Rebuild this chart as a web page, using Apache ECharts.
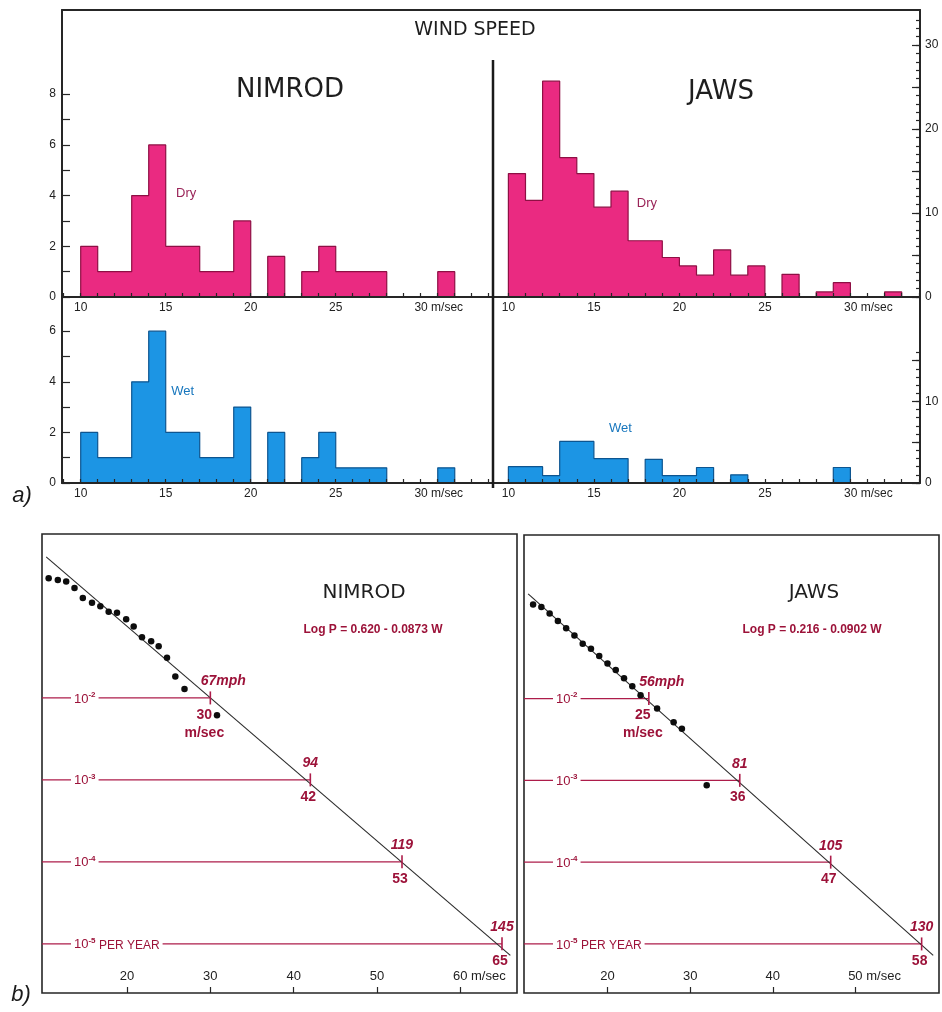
<!DOCTYPE html>
<html>
<head>
<meta charset="utf-8">
<title>Wind speed – NIMROD and JAWS</title>
<script src="https://cdn.jsdelivr.net/npm/echarts@6/dist/echarts.min.js"></script>
<style>
  html, body { margin: 0; padding: 0; background: #ffffff; }
  #chart { width: 942px; height: 1012px; }
</style>
</head>
<body>
<div id="chart"></div>
<script>
// ---- Histogram counts, one value per 1 m/s bin, first bin starts at 10 m/s ----
const binStart = 10;
const nimrodDry = [2, 1, 1, 4, 6, 2, 2, 1, 1, 3, 0, 1.6, 0, 1, 2, 1, 1, 1, 0, 0, 0, 1];
const nimrodWet = [2, 1, 1, 4, 6, 2, 2, 1, 1, 3, 0, 2, 0, 1, 2, 0.6, 0.6, 0.6, 0, 0, 0, 0.6];
const jawsDry = [14.7, 11.5, 25.7, 16.6, 14.7, 10.7, 12.6, 6.7, 6.7, 4.7, 3.7, 2.6, 5.6, 2.6, 3.7, 0, 2.7, 0, 0.6, 1.7, 0, 0, 0.6];
const jawsWet = [2, 2, 0.9, 5.1, 5.1, 3, 3, 0, 2.9, 0.9, 0.9, 1.9, 0, 1, 0, 0, 0, 0, 0, 1.9];

// ---- Annual exceedance probability: observed points [W (m/s), log10 P] ----
const nimrodObs = [
  [10.6, -0.54], [11.7, -0.56], [12.7, -0.58], [13.7, -0.66], [14.7, -0.78], [15.8, -0.84],
  [16.8, -0.88], [17.8, -0.95], [18.8, -0.96], [19.9, -1.04], [20.8, -1.13], [21.8, -1.26],
  [22.9, -1.31], [23.8, -1.37], [24.8, -1.51], [25.8, -1.74], [26.9, -1.89], [30.8, -2.21]
];
const jawsObs = [
  [11, -0.85], [12, -0.88], [13, -0.96], [14, -1.05], [15, -1.14], [16, -1.23],
  [17, -1.33], [18, -1.39], [19, -1.48], [20, -1.57], [21, -1.65], [22, -1.75],
  [23, -1.85], [24, -1.96], [26, -2.12], [28, -2.29], [29, -2.37], [32, -3.06]
];
// fitted regression lines, end points [W, log10 P]
const nimrodFit = [[10.3, -0.28], [66.0, -5.14]];
const jawsFit = [[10.4, -0.72], [59.4, -5.14]];
const nimrodEquation = 'Log P = 0.620 - 0.0873 W';
const jawsEquation = 'Log P = 0.216 - 0.0902 W';

// return levels: log10 of annual probability and the matching speeds
const levelExp = [-2, -3, -4, -5];
const levelSuffix = ['', '', '', ' PER YEAR'];
const nimrodMs = [30, 42, 53, 65];
const nimrodMph = [67, 94, 119, 145];
const jawsMs = [25, 36, 47, 58];
const jawsMph = [56, 81, 105, 130];

// ---- Tick labels ----
const histTickLabels = [10, 15, 20, 25, 30];
const nimrodDryYLabels = [0, 2, 4, 6, 8];
const nimrodWetYLabels = [0, 2, 4, 6];
const jawsDryYLabels = [0, 10, 20, 30];
const jawsWetYLabels = [0, 10];
const nimrodProbTicks = [20, 30, 40, 50, 60];
const jawsProbTicks = [20, 30, 40, 50];

// ---- Axis extents ----
const nimrodHistRange = [8.9, 34.25];
const jawsHistRange = [9.1, 34.07];
const nimrodDryMax = 11.32, jawsDryMax = 34.17, nimrodWetMax = 7.35, jawsWetMax = 22.8;
const nimrodProbRange = [9.8, 66.8];
const jawsProbRange = [9.9, 60.1];
const logRange = [-5.6, 0];

// ---- Styles ----
const FONT = '"Liberation Sans", Arial, sans-serif';
const TITLE_FONT = '"DejaVu Sans", sans-serif';
const AX = '#262626';
const PINK = '#ea2a81', PINK_EDGE = '#8e0f44', PINK_TEXT = '#9a2458';
const BLUE = '#1c95e4', BLUE_EDGE = '#0d5590', BLUE_TEXT = '#1776bd';
const RED_LINE = '#ad1c4a', RED_TEXT = '#9c1239';

function intRange(a, b) {
  const out = [];
  for (let v = a; v <= b; v++) out.push(v);
  return out;
}

// histogram outline as a step line: each value holds over its 1 m/s bin
function stepData(vals) {
  const pts = [[binStart, 0]];
  vals.forEach((v, i) => pts.push([binStart + i, v]));
  pts.push([binStart + vals.length, 0]);
  return pts;
}

// last tick label carries the unit, number stays centred on its tick
function unitLabel(labels, pad, size) {
  return {
    formatter: v => v === labels[labels.length - 1] ? '{n|' + v + '}{u| m/sec}' : String(v),
    rich: {
      n: { padding: [0, 0, 0, pad], fontSize: size, fontFamily: FONT, color: '#222' },
      u: { fontSize: size, fontFamily: FONT, color: '#222' }
    }
  };
}

function histXAxis(grid, range) {
  return {
    type: 'value', gridIndex: grid, position: 'bottom', min: range[0], max: range[1], z: 5,
    axisLine: { show: true, onZero: false, lineStyle: { color: AX, width: 2 } },
    axisTick: { show: true, inside: true, length: 4, customValues: intRange(Math.ceil(range[0]), Math.floor(range[1])),
      lineStyle: { color: AX, width: 1.2 } },
    axisLabel: Object.assign({ customValues: histTickLabels, margin: 5, color: '#222', fontSize: 12,
      fontFamily: FONT }, unitLabel(histTickLabels, 36, 12)),
    splitLine: { show: false }
  };
}

function topLineAxis(grid, range) {
  return {
    type: 'value', gridIndex: grid, position: 'top', min: range[0], max: range[1],
    axisLine: { show: true, onZero: false, lineStyle: { color: AX, width: 2 } },
    axisTick: { show: false }, axisLabel: { show: false }, splitLine: { show: false }
  };
}

function countYAxis(grid, side, max, ticks, labels, tickLen, showLine) {
  return {
    type: 'value', gridIndex: grid, position: side, min: 0, max: max, z: 5,
    axisLine: { show: showLine, onZero: false, lineStyle: { color: AX, width: 2 } },
    axisTick: { show: true, inside: true, length: tickLen, customValues: ticks, lineStyle: { color: AX, width: 1.2 } },
    axisLabel: labels ? { customValues: labels, margin: side === 'left' ? 6 : 5, color: '#222', fontSize: 12, fontFamily: FONT }
                      : { show: false },
    splitLine: { show: false }
  };
}

function probXAxis(grid, range, ticks) {
  return {
    type: 'value', gridIndex: grid, min: range[0], max: range[1], z: 5,
    axisLine: { show: false, onZero: false },
    axisTick: { show: true, inside: true, length: 6, customValues: ticks, lineStyle: { color: AX, width: 1.2 } },
    axisLabel: Object.assign({ inside: true, customValues: ticks, margin: 10, color: '#222', fontSize: 13,
      fontFamily: FONT }, unitLabel(ticks, 38, 13)),
    splitLine: { show: false }
  };
}

function probYAxis(grid) {
  return { type: 'value', gridIndex: grid, min: logRange[0], max: logRange[1], show: false, splitLine: { show: false } };
}

function histSeries(vals, xi, yi, fill, edge) {
  return {
    type: 'line', xAxisIndex: xi, yAxisIndex: yi, step: 'end', symbol: 'none', silent: true,
    data: stepData(vals), z: 2,
    lineStyle: { color: edge, width: 1.2 },
    areaStyle: { color: fill, opacity: 1 }
  };
}

function tagSeries(xi, yi, point, text, color) {
  return {
    type: 'scatter', xAxisIndex: xi, yAxisIndex: yi, symbolSize: 0, silent: true, z: 6,
    data: [point], itemStyle: { opacity: 1 },
    label: { show: true, position: 'inside', formatter: text, color: color, fontSize: 13, fontFamily: FONT }
  };
}

const redRich = {
  b: { color: RED_TEXT, fontSize: 13, fontFamily: FONT, verticalAlign: 'bottom', lineHeight: 15 },
  s: { color: RED_TEXT, fontSize: 8, fontFamily: FONT, fontWeight: 'bold', verticalAlign: 'top', lineHeight: 15 },
  t: { color: RED_TEXT, fontSize: 12, fontFamily: FONT, verticalAlign: 'bottom', lineHeight: 15 }
};

// probability panel: fitted line, observations, return-level markers
function probSeries(xi, yi, xRange, obs, fit, msVals, mphVals) {
  const out = [];
  out.push({
    type: 'line', xAxisIndex: xi, yAxisIndex: yi, symbol: 'none', silent: true, z: 3,
    data: fit, lineStyle: { color: '#2a2a2a', width: 1.1 }
  });
  levelExp.forEach((L, i) => {
    out.push({
      type: 'line', xAxisIndex: xi, yAxisIndex: yi, symbol: 'none', silent: true, z: 2,
      data: [[xRange[0], L], [msVals[i], L]], lineStyle: { color: RED_LINE, width: 1.3 }
    });
  });
  // level captions sitting on the horizontal lines
  out.push({
    type: 'scatter', xAxisIndex: xi, yAxisIndex: yi, symbolSize: 0, silent: true, z: 6,
    itemStyle: { opacity: 1 },
    data: levelExp.map((L, i) => ({ value: [xRange[0], L], name: levelSuffix[i] })),
    label: { show: true, position: 'right', distance: 29,
      formatter: p => '{b|10}{s|' + levelExp[p.dataIndex] + '}' + (p.name ? '{t|' + p.name + '}' : ''),
      rich: redRich, backgroundColor: '#ffffff', padding: [0, 3, 0, 3] }
  });
  // intersection ticks with mph above
  out.push({
    type: 'scatter', xAxisIndex: xi, yAxisIndex: yi, symbol: 'rect', symbolSize: [1.6, 13], silent: true, z: 5,
    data: msVals.map((w, i) => ({ value: [w, levelExp[i]], name: String(mphVals[i]) })),
    itemStyle: { color: RED_LINE, opacity: 1 },
    label: { show: true, position: 'top', distance: 3,
      formatter: p => p.dataIndex === 0 ? '{p|' + p.name + '}{u|mph}' : '{m|' + p.name + '}',
      rich: {
        p: { padding: [0, 0, 0, 26], color: RED_TEXT, fontSize: 14, fontStyle: 'italic', fontWeight: 'bold', fontFamily: FONT },
        u: { color: RED_TEXT, fontSize: 14, fontStyle: 'italic', fontWeight: 'bold', fontFamily: FONT },
        m: { color: RED_TEXT, fontSize: 14, fontStyle: 'italic', fontWeight: 'bold', fontFamily: FONT }
      } }
  });
  // m/s values below
  out.push({
    type: 'scatter', xAxisIndex: xi, yAxisIndex: yi, symbolSize: 0, silent: true, z: 6,
    itemStyle: { opacity: 1 },
    data: msVals.map((w, i) => ({
      value: [w, levelExp[i]], name: String(w),
      label: i === 0 ? { offset: [-6, 0] } : { offset: [-2, 0] }
    })),
    label: { show: true, position: 'bottom', distance: 8, lineHeight: 18,
      formatter: p => p.dataIndex === 0 ? p.name + '\nm/sec' : p.name,
      color: RED_TEXT, fontSize: 14, fontWeight: 'bold', fontFamily: FONT }
  });
  out.push({
    type: 'scatter', xAxisIndex: xi, yAxisIndex: yi, symbol: 'circle', symbolSize: 6.5, silent: true, z: 4,
    data: obs, itemStyle: { color: '#0d0d0d', opacity: 1 }
  });
  return out;
}

function text(x, y, str, font, color, extra) {
  return Object.assign({
    type: 'text', x: x, y: y, z: 20, silent: true,
    style: { text: str, font: font, fill: color, textAlign: 'center', textVerticalAlign: 'middle' }
  }, extra || {});
}

const option = {
  backgroundColor: '#ffffff',
  animation: false,
  grid: [
    { left: 62, top: 10, width: 431, height: 287 },
    { left: 493, top: 10, width: 427, height: 287 },
    { left: 62, top: 297, width: 431, height: 186 },
    { left: 493, top: 297, width: 427, height: 186 },
    { left: 42, top: 534, width: 475, height: 459, show: true, borderColor: AX, borderWidth: 1.6 },
    { left: 524, top: 535, width: 415, height: 458, show: true, borderColor: AX, borderWidth: 1.6 }
  ],
  xAxis: [
    histXAxis(0, nimrodHistRange),
    histXAxis(1, jawsHistRange),
    histXAxis(2, nimrodHistRange),
    histXAxis(3, jawsHistRange),
    topLineAxis(0, nimrodHistRange),
    topLineAxis(1, jawsHistRange),
    probXAxis(4, nimrodProbRange, nimrodProbTicks),
    probXAxis(5, jawsProbRange, jawsProbTicks)
  ],
  yAxis: [
    countYAxis(0, 'left', nimrodDryMax, intRange(0, 8), nimrodDryYLabels, 8, true),
    countYAxis(1, 'right', jawsDryMax, intRange(0, 33), jawsDryYLabels, 4, true),
    countYAxis(1, 'right', jawsDryMax, [0, 5, 10, 15, 20, 25, 30], null, 8, false),
    countYAxis(2, 'left', nimrodWetMax, intRange(0, 6), nimrodWetYLabels, 8, true),
    countYAxis(3, 'right', jawsWetMax, intRange(0, 16), jawsWetYLabels, 4, true),
    countYAxis(3, 'right', jawsWetMax, [0, 5, 10, 15], null, 8, false),
    probYAxis(4),
    probYAxis(5)
  ],
  series: [
    histSeries(nimrodDry, 0, 0, PINK, PINK_EDGE),
    histSeries(jawsDry, 1, 1, PINK, PINK_EDGE),
    histSeries(nimrodWet, 2, 3, BLUE, BLUE_EDGE),
    histSeries(jawsWet, 3, 4, BLUE, BLUE_EDGE),
    tagSeries(0, 0, [16.2, 4.1], 'Dry', PINK_TEXT),
    tagSeries(1, 1, [18.1, 11.1], 'Dry', PINK_TEXT),
    tagSeries(2, 3, [16.0, 3.6], 'Wet', BLUE_TEXT),
    tagSeries(3, 4, [16.55, 6.75], 'Wet', BLUE_TEXT)
  ].concat(
    probSeries(6, 6, nimrodProbRange, nimrodObs, nimrodFit, nimrodMs, nimrodMph),
    probSeries(7, 7, jawsProbRange, jawsObs, jawsFit, jawsMs, jawsMph)
  ),
  graphic: [
    { type: 'line', z: 20, silent: true, shape: { x1: 493, y1: 60, x2: 493, y2: 488 },
      style: { stroke: '#1a1a1a', lineWidth: 2.5 } },
    text(475, 30, 'WIND SPEED', '19px ' + TITLE_FONT, '#1e1e1e'),
    text(290, 90, 'NIMROD', '26px ' + TITLE_FONT, '#1e1e1e'),
    text(721, 92, 'JAWS', '26px ' + TITLE_FONT, '#1e1e1e'),
    text(364, 593, 'NIMROD', '20px ' + TITLE_FONT, '#1e1e1e'),
    text(373, 630, nimrodEquation, 'bold 12px ' + FONT, RED_TEXT),
    text(814, 593, 'JAWS', '20px ' + TITLE_FONT, '#1e1e1e'),
    text(812, 630, jawsEquation, 'bold 12px ' + FONT, RED_TEXT),
    text(22, 496, 'a)', 'italic 22px ' + FONT, '#1a1a1a'),
    text(21, 995, 'b)', 'italic 22px ' + FONT, '#1a1a1a')
  ]
};

const chart = echarts.init(document.getElementById('chart'), null, { renderer: 'canvas' });
chart.setOption(option);
</script>
</body>
</html>
